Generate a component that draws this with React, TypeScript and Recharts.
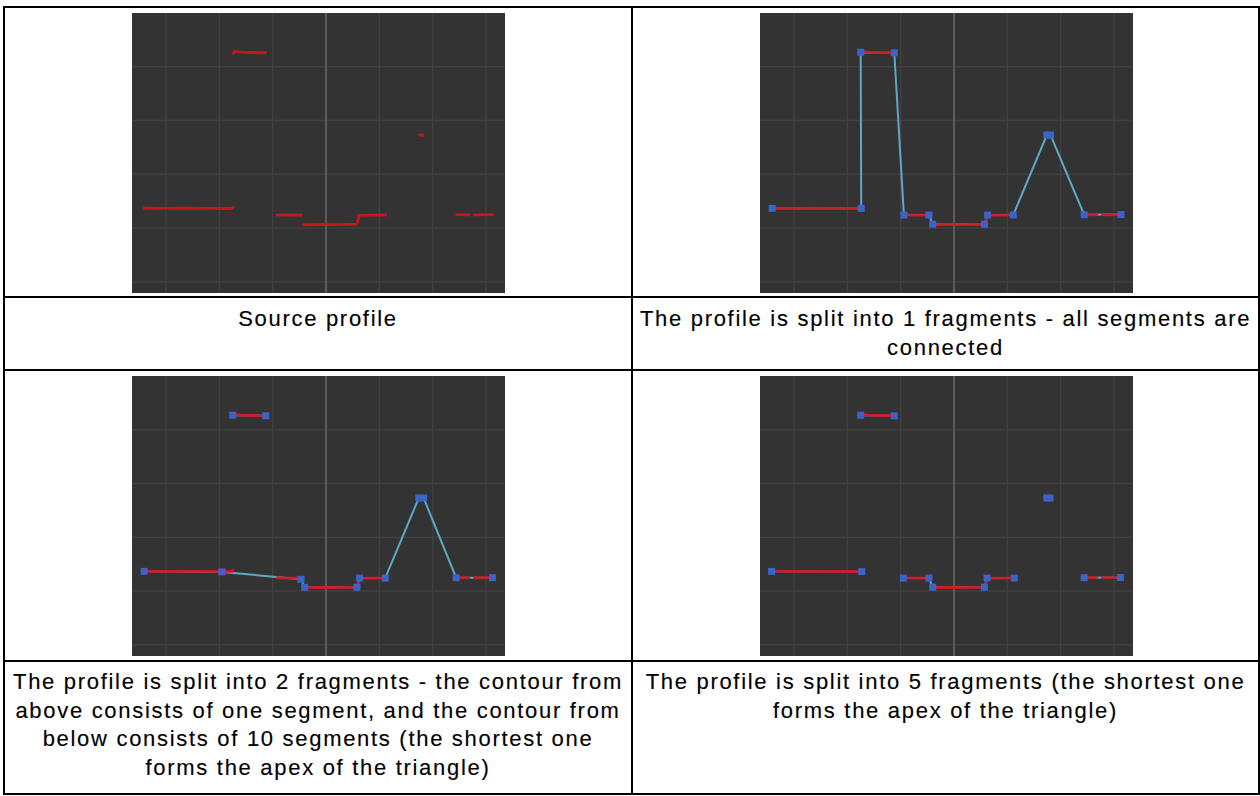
import { ComposedChart, Line, ReferenceLine, XAxis, YAxis } from "recharts";

type Pt = { x: number; y: number | null };

const gridX = [-3, -2, -1, 1, 2, 3];
const gridY = [0, 1, 2, 3, 4];

// source profile, red scan pieces
const srcLeft: Pt[] = [
  { x: -3.43, y: 1.368 }, { x: -3.0, y: 1.366 }, { x: -2.6, y: 1.370 }, { x: -2.2, y: 1.363 },
  { x: -1.9, y: 1.362 }, { x: -1.76, y: 1.366 }, { x: -1.73, y: 1.405 },
];
const srcTop: Pt[] = [
  { x: -1.75, y: 4.235 }, { x: -1.72, y: 4.285 }, { x: -1.6, y: 4.272 }, { x: -1.4, y: 4.265 }, { x: -1.11, y: 4.26 },
];
const srcMidA: Pt[] = [{ x: -0.94, y: 1.245 }, { x: -0.7, y: 1.238 }, { x: -0.45, y: 1.241 }];
const srcMidB: Pt[] = [
  { x: -0.44, y: 1.075 }, { x: -0.4, y: 1.06 }, { x: -0.1, y: 1.068 }, { x: 0.2, y: 1.064 }, { x: 0.58, y: 1.07 },
];
const srcMidC: Pt[] = [{ x: 0.59, y: 1.09 }, { x: 0.62, y: 1.235 }, { x: 0.9, y: 1.24 }, { x: 1.14, y: 1.245 }];
const srcPeak: Pt[] = [{ x: 1.73, y: 2.73 }, { x: 1.84, y: 2.725 }];
const srcRightA: Pt[] = [{ x: 2.43, y: 1.248 }, { x: 2.7, y: 1.245 }];
const srcRightB: Pt[] = [{ x: 2.76, y: 1.245 }, { x: 3.14, y: 1.25 }];

const joinSegs = (segs: Pt[][]): Pt[] =>
  segs.flatMap((s, i) => (i ? [{ x: s[0].x, y: null }, ...s] : s));

const sourceProfile = joinSegs([srcLeft, srcTop, srcMidA, srcMidB, srcMidC, srcPeak, srcRightA, srcRightB]);

// 1 fragment
const oneAll: Pt[] = [
  { x: -3.41, y: 1.365 }, { x: -1.74, y: 1.365 }, { x: -1.75, y: 4.27 }, { x: -1.12, y: 4.26 },
  { x: -0.94, y: 1.24 }, { x: -0.47, y: 1.24 }, { x: -0.4, y: 1.07 }, { x: 0.57, y: 1.07 },
  { x: 0.63, y: 1.24 }, { x: 1.11, y: 1.24 }, { x: 1.74, y: 2.73 }, { x: 1.81, y: 2.73 },
  { x: 2.44, y: 1.247 }, { x: 3.13, y: 1.25 },
];

// 2 fragments
const twoUpper: Pt[] = [{ x: -1.75, y: 4.27 }, { x: -1.13, y: 4.26 }];
const twoLower: Pt[] = [
  { x: -3.41, y: 1.365 }, { x: -1.95, y: 1.355 }, { x: -0.47, y: 1.217 }, { x: -0.4, y: 1.068 },
  { x: 0.58, y: 1.068 }, { x: 0.63, y: 1.24 }, { x: 1.11, y: 1.24 }, { x: 1.74, y: 2.73 },
  { x: 1.83, y: 2.73 }, { x: 2.44, y: 1.247 }, { x: 3.12, y: 1.247 },
];

// 5 fragments
const fiveA: Pt[] = [{ x: -3.42, y: 1.365 }, { x: -1.73, y: 1.36 }];
const fiveB: Pt[] = [{ x: -1.75, y: 4.27 }, { x: -1.12, y: 4.26 }];
const fiveC: Pt[] = [
  { x: -0.95, y: 1.24 }, { x: -0.47, y: 1.24 }, { x: -0.4, y: 1.07 },
  { x: 0.57, y: 1.07 }, { x: 0.62, y: 1.24 }, { x: 1.13, y: 1.24 },
];
const fiveD: Pt[] = [{ x: 1.74, y: 2.73 }, { x: 1.8, y: 2.73 }];
const fiveE: Pt[] = [{ x: 2.44, y: 1.247 }, { x: 3.12, y: 1.25 }];

const captions = {
  source: ["Source profile"],
  one: ["The profile is split into 1 fragments - all segments are", "connected"],
  two: [
    "The profile is split into 2 fragments - the contour from",
    "above consists of one segment, and the contour from",
    "below consists of 10 segments (the shortest one",
    "forms the apex of the triangle)",
  ],
  five: ["The profile is split into 5 fragments (the shortest one", "forms the apex of the triangle)"],
};

const Square = (props: any) => {
  const { cx, cy, index } = props;
  if (cx == null || cy == null || props.value == null) return <g key={`n${index}`} />;
  return <rect key={`sq${index}`} x={cx - 3.5} y={cy - 3.5} width={7} height={7} fill="#3b63c8" />;
};

const Panel = ({ fragments, left, top }: { fragments: Pt[][]; left: number; top: number }) => (
  <div style={{ position: "absolute", left, top, width: 373, height: 280, background: "#333333" }}>
    <ComposedChart width={373} height={280} margin={{ top: 0, right: 0, bottom: 0, left: 0 }}>
      <XAxis type="number" dataKey="x" domain={[-3.638, 3.356]} allowDataOverflow hide />
      <YAxis type="number" dataKey="y" domain={[-0.21, 5.0]} allowDataOverflow hide />
      {gridX.map((v) => (
        <ReferenceLine key={"gx" + v} x={v} stroke="#404040" strokeWidth={1.5} />
      ))}
      {gridY.map((v) => (
        <ReferenceLine key={"gy" + v} y={v} stroke="#404040" strokeWidth={1.5} />
      ))}
      <ReferenceLine x={0} stroke="#5c5c5c" strokeWidth={2} />
      {fragments.map((f, i) => (
        <Line key={"c" + i} data={f} dataKey="y" type="linear" stroke="#5fa9c6" strokeWidth={2}
          dot={false} activeDot={false} isAnimationActive={false} />
      ))}
      <Line data={sourceProfile} dataKey="y" type="linear" stroke="#d8121c" strokeWidth={2.8} strokeOpacity={0.9}
        dot={false} activeDot={false} isAnimationActive={false} />
      {fragments.map((f, i) => (
        <Line key={"s" + i} data={f} dataKey="y" type="linear" stroke="none"
          dot={Square} activeDot={false} isAnimationActive={false} />
      ))}
    </ComposedChart>
  </div>
);

const Caption = ({ lines, left, width, top }: { lines: string[]; left: number; width: number; top: number }) => (
  <div style={{ position: "absolute", left, width, top, textAlign: "center", whiteSpace: "nowrap",
    fontFamily: '"Liberation Sans", Arial, sans-serif', fontSize: 22, letterSpacing: 1.7, lineHeight: "28.5px",
    color: "#000", WebkitTextStroke: "0.15px #000" }}>
    {lines.map((l, i) => <div key={i}>{l}</div>)}
  </div>
);

const hRules = [6, 296, 369, 660, 793];
const vRules = [3, 631, 1258];

export default function App() {
  return (
    <div style={{ position: "absolute", left: 0, top: 0, width: 1260, height: 796, background: "#fff" }}>
      {hRules.map((y) => (
        <div key={"h" + y} style={{ position: "absolute", left: 3, top: y, width: 1257, height: 2, background: "#000" }} />
      ))}
      {vRules.map((x) => (
        <div key={"v" + x} style={{ position: "absolute", left: x, top: 6, width: 2, height: 789, background: "#000" }} />
      ))}
      <Panel fragments={[]} left={132} top={13} />
      <Panel fragments={[oneAll]} left={760} top={13} />
      <Panel fragments={[twoUpper, twoLower]} left={132} top={376} />
      <Panel fragments={[fiveA, fiveB, fiveC, fiveD, fiveE]} left={760} top={376} />
      <Caption lines={captions.source} left={5} width={626} top={305} />
      <Caption lines={captions.one} left={633} width={625} top={305} />
      <Caption lines={captions.two} left={5} width={626} top={668} />
      <Caption lines={captions.five} left={633} width={625} top={668} />
    </div>
  );
}
